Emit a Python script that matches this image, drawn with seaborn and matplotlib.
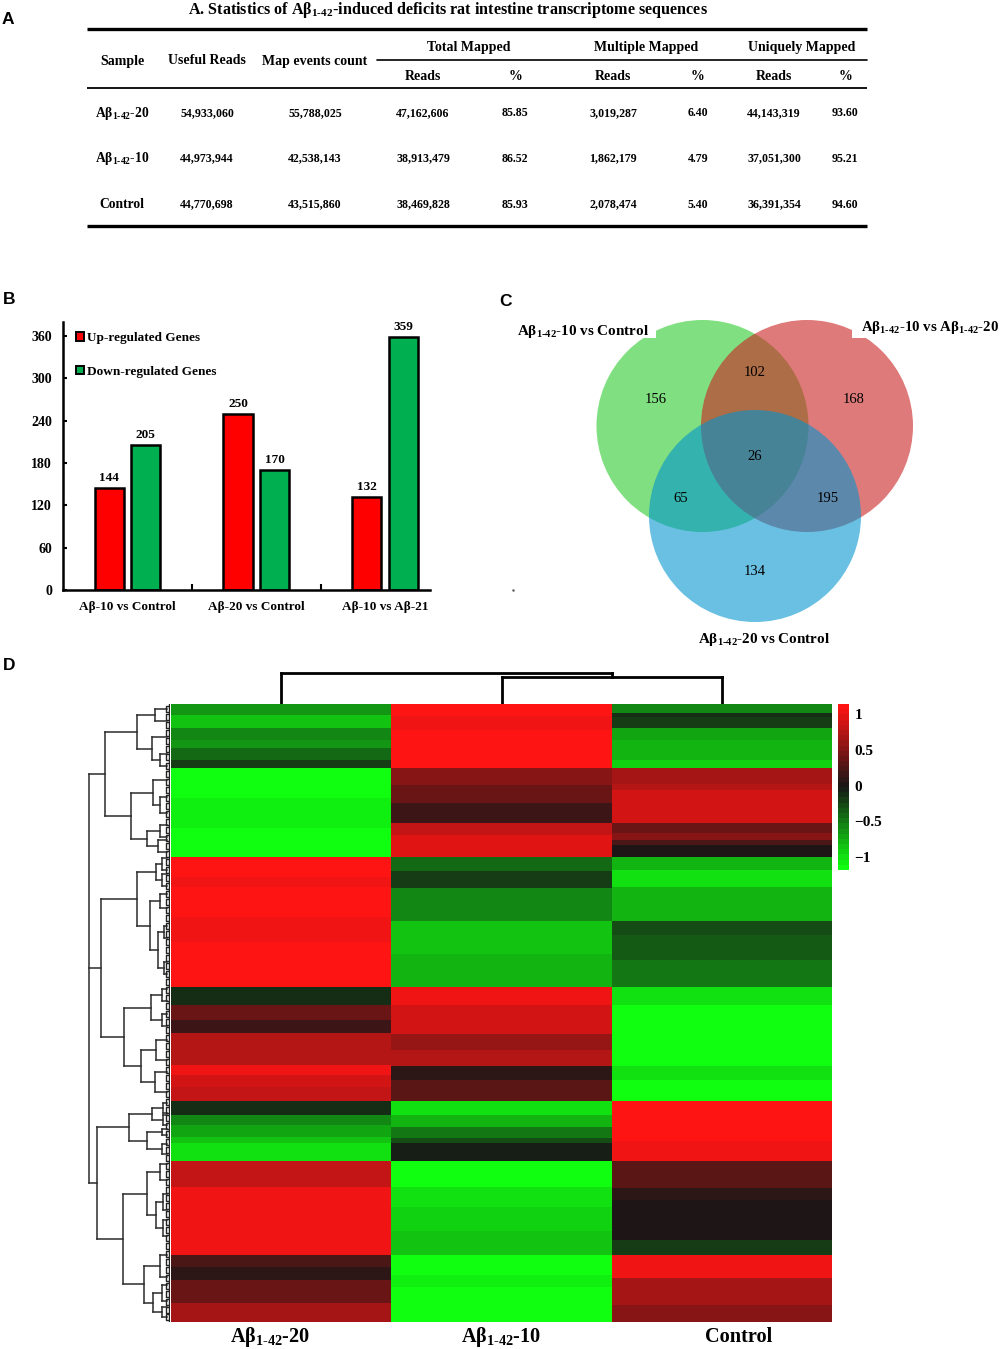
import numpy as np
import pandas as pd
import matplotlib
matplotlib.use("Agg")
import matplotlib.pyplot as plt
from matplotlib.colors import LinearSegmentedColormap
from matplotlib.patches import Circle, Rectangle
import seaborn as sns

# panel A table
ab = r"Aβ$_{\mathrm{1\text{-}42}}$"
table_title = "A. Statistics of " + ab + "-induced deficits rat intestine transcriptome sequences"
samples = [ab + "-20", ab + "-10", "Control"]
useful_reads = ["54,933,060", "44,973,944", "44,770,698"]
map_events = ["55,788,025", "42,538,143", "43,515,860"]
total_reads = ["47,162,606", "38,913,479", "38,469,828"]
total_pct = ["85.85", "86.52", "85.93"]
multi_reads = ["3,019,287", "1,862,179", "2,078,474"]
multi_pct = ["6.40", "4.79", "5.40"]
uniq_reads = ["44,143,319", "37,051,300", "36,391,354"]
uniq_pct = ["93.60", "95.21", "94.60"]

# panel B bars
comparisons = ["Aβ-10 vs Control", "Aβ-20 vs Control", "Aβ-10 vs Aβ-21"]
up_genes = [144, 250, 132]
down_genes = [205, 170, 359]

# panel C venn
venn_labels = [ab + "-10 vs Control", ab + "-10 vs " + ab + "-20", ab + "-20 vs Control"]
venn_counts = [156, 102, 168, 65, 26, 195, 134]

# panel D heatmap, bands of (value, rows) per sample
heat_cols = [ab + "-20", ab + "-10", "Control"]
col1_vals = [-.65, -.85, -.58, -.62, -.45, -.2, -1.16, -1.06, -1.16, 1.12, 1.05, 1.12, 1.05, 1.12,
             -.1, .35, .15, .75, 1.05, .9, .8, -.12, -.55, -.7, -.85, -1.0, .8, 1.05, .2, .08, .4, .7]
col1_rows = [11, 13, 12, 8, 12, 8, 30, 30, 29, 20, 10, 30, 25, 45,
             18, 15, 13, 32, 10, 12, 14, 14, 10, 12, 6, 18, 26, 68, 12, 13, 23, 19]
col2_vals = [1.12, 1.05, 1.12, .55, .35, .15, .8, .95, -.45, -.18, -.58, -.85, -.75,
             1.0, .85, .6, .75, .1, .3, -1.0, -.8, -.5, -.3, -.05, -1.16, -1.0, -.92, -.85, -1.16, -1.06, -1.16]
col2_rows = [12, 14, 38, 17, 18, 20, 12, 22, 14, 17, 33, 33, 33,
             18, 29, 16, 16, 14, 21, 14, 12, 11, 5, 18, 26, 20, 24, 24, 20, 12, 35]
col3_vals = [-.55, -.1, -.2, -.7, -.8, -.95, .65, .72, .92, .35, .5, .2, .05, -.8, -1.0, -.8, -.75, -.25, -.35, -.5,
             -1.0, -1.16, -1.0, -1.16, 1.1, 1.0, .3, .12, .02, -.2, 1.0, .65, .5]
col3_rows = [9, 4, 11, 12, 20, 8, 16, 6, 33, 10, 7, 5, 12, 13, 17, 13, 21, 14, 25, 27,
             18, 61, 14, 21, 40, 20, 27, 12, 40, 15, 23, 27, 17]

# dendrograms as nested (distance, child, child, ...), leaves are row/column positions
row_tree = (81,
            (65,
             (33, (15, 5, 17), (18, 33, (10, 50, 62))),
             (39, (17, 76, (10, 93, 109)), (23, (10, 121, 133), (12, 136, 148)))),
            (69,
             (33, (14, (8, 154, 166), (8, 170, 182)),
              (20, (10, 190, 204), (12, (6, 222, 234), (6, 258, 270)))),
             (46, (19, (8, 285, 297), (8, 310, 322)),
              (29, (14, 336, 356), (15, 368, 388)))),
            (73,
             (41, (18, (7, 399, 409), (7, 411, 421)), (23, (8, 425, 431), (8, 440, 450))),
             (47, (23, (10, 460, 476), (14, (7, 490, 506), (7, 516, 532))),
              (26, (10, 551, 573), (17, (8, 581, 597), (8, 603, 613))))))
col_tree = (31, 0.5, (27, 1.5, 2.5))
row_hooks = [5, 13, 21, 29, 37, 45, 53, 62, 70, 78, 86, 94, 102, 110, 118, 126, 134, 142, 150, 158, 166, 174,
             182, 190, 198, 206, 214, 222, 230, 238, 246, 254, 262, 270, 278, 286, 294, 302, 310, 318, 326,
             334, 342, 350, 358, 366, 374, 382, 390, 398, 406, 414, 422, 430, 438, 446, 454, 462, 470, 478,
             486, 494, 502, 510, 518, 526, 534, 542, 550, 558, 566, 574, 582, 590, 598, 606, 613]

sns.set_style("white")
plt.rcParams["font.family"] = ["Liberation Serif", "DejaVu Serif"]
plt.rcParams["font.weight"] = "bold"
plt.rcParams["text.color"] = "black"
plt.rcParams["xtick.color"] = "black"
plt.rcParams["ytick.color"] = "black"
plt.rcParams["mathtext.fontset"] = "custom"
plt.rcParams["mathtext.rm"] = "Liberation Serif:bold"
plt.rcParams["mathtext.it"] = "Liberation Serif:bold"
plt.rcParams["mathtext.bf"] = "Liberation Serif:bold"

W, H = 1000, 1349
fig = plt.figure(figsize=(W / 100, H / 100), dpi=100, facecolor="white")


def px_axes(x0, y0, x1, y1):
    return fig.add_axes([x0 / W, 1 - y1 / H, (x1 - x0) / W, (y1 - y0) / H])


def draw_tree(ax, node, leaf_end, vertical_leaves, **kw):
    if not isinstance(node, tuple):
        return node
    dist = node[0]
    spots = []
    for kid in node[1:]:
        spot = draw_tree(ax, kid, leaf_end, vertical_leaves, **kw)
        kid_dist = kid[0] if isinstance(kid, tuple) else leaf_end
        if vertical_leaves:
            ax.plot([spot, spot], [kid_dist, dist], **kw)
        else:
            ax.plot([kid_dist, dist], [spot, spot], **kw)
        spots.append(spot)
    if vertical_leaves:
        ax.plot([min(spots), max(spots)], [dist, dist], **kw)
    else:
        ax.plot([dist, dist], [min(spots), max(spots)], **kw)
    return (min(spots) + max(spots)) / 2


# overlay in pixels, for the table, the venn and panel letters
page = px_axes(0, 0, W, H)
page.set_xlim(0, W)
page.set_ylim(H, 0)
page.axis("off")

for letter, x, y in [("A", 2, 20), ("B", 3, 300), ("C", 499, 301), ("D", 3, 665)]:
    page.text(x, y, letter, family="Liberation Sans", fontsize=12.5, weight="bold", va="center")

page.text(448, 10, table_title, fontsize=11.6, ha="center", va="center")
for y, lw in [(29, 2.4), (88, 1.3), (226, 2.4)]:
    page.plot([87, 867], [y, y], color="black", lw=lw, solid_capstyle="butt")
page.plot([377, 867], [60, 60], color="black", lw=1.2)

for name, x in [("Sample", 122), ("Useful Reads", 207), ("Map events count", 315)]:
    page.text(x, 61, name, fontsize=10, ha="center", va="center")
for name, x in [("Total Mapped", 469), ("Multiple Mapped", 646), ("Uniquely Mapped", 802)]:
    page.text(x, 47, name, fontsize=10, ha="center", va="center")
for name, x in zip(["Reads", "%", "Reads", "%", "Reads", "%"], [423, 515, 613, 698, 774, 845]):
    page.text(x, 76, name, fontsize=10, ha="center", va="center")

table_cols = [useful_reads, map_events, total_reads, total_pct, multi_reads, multi_pct, uniq_reads, uniq_pct]
table_x = [207, 315, 423, 515, 613, 698, 774, 845]
for i, y in enumerate([113, 158.5, 204.5]):
    page.text(122, y, samples[i], fontsize=9.8, ha="center", va="center")
    for col, x in zip(table_cols, table_x):
        page.text(x, y, col[i], fontsize=8.6, ha="center", va="center")

# panel C
page.add_patch(Circle((702.5, 426), 106, fc=(43 / 255, 203 / 255, 43 / 255), ec="none", alpha=.6))
page.add_patch(Circle((807, 426), 106, fc=(203 / 255, 33 / 255, 33 / 255), ec="none", alpha=.6))
page.add_patch(Circle((755, 516), 106, fc=(0, 148 / 255, 206 / 255), ec="none", alpha=.59))
page.add_patch(Rectangle((510, 318), 146, 20, fc="white", ec="none"))
page.add_patch(Rectangle((852, 318), 148, 20, fc="white", ec="none"))
page.text(517, 331, venn_labels[0], fontsize=10.9, va="center")
page.text(861, 328, venn_labels[1], fontsize=10.7, va="center")
page.text(698, 639, venn_labels[2], fontsize=10.9, va="center")
venn_x = [656, 755, 854, 681, 755, 828, 755]
venn_y = [399.5, 372.5, 399.5, 498.5, 456.5, 498.5, 571.5]
for n, x, y in zip(venn_counts, venn_x, venn_y):
    page.text(x, y, str(n), fontsize=10.5, weight="normal", ha="center", va="center")
page.plot([513], [590], marker=".", ms=1.5, color="#555555")

# panel B
bars = pd.DataFrame({
    "comparison": comparisons * 2,
    "genes": up_genes + down_genes,
    "kind": ["Up-regulated Genes"] * 3 + ["Down-regulated Genes"] * 3,
})
ax = px_axes(63, 322, 430, 590)
sns.barplot(data=bars, x="comparison", y="genes", hue="kind", ax=ax, width=.568, gap=.2,
            palette=["#FF0000", "#00B050"], edgecolor="black", linewidth=1.8, saturation=1)
ax.set_xlim(-.501, 2.35)
ax.set_ylim(0, 380)
ax.set_xlabel("")
ax.set_ylabel("")
ax.set_yticks([0, 60, 120, 180, 240, 300, 360])
ax.tick_params(axis="y", direction="in", length=3, width=1.5, labelsize=10, pad=8, left=True)
ax.tick_params(axis="x", which="major", length=0, labelsize=9.5, pad=8)
ax.set_xticks([.5, 1.5], minor=True)
ax.tick_params(axis="x", which="minor", direction="in", length=4, width=1.5, bottom=True)
sns.despine(ax=ax)
for side in ["left", "bottom"]:
    ax.spines[side].set_linewidth(1.8)
    ax.spines[side].set_color("black")
for bc in ax.containers:
    ax.bar_label(bc, fontsize=9.5, padding=3)
ax.legend(loc="upper left", bbox_to_anchor=(.021, .982), frameon=False, fontsize=9.5, labelspacing=1.65,
          handlelength=.6, handleheight=.6, handletextpad=.25, borderaxespad=0)
for h in ax.get_legend().legend_handles:
    h.set_linewidth(1.4)

# panel D
heat = pd.DataFrame({
    heat_cols[0]: np.repeat(col1_vals, col1_rows),
    heat_cols[1]: np.repeat(col2_vals, col2_rows),
    heat_cols[2]: np.repeat(col3_vals, col3_rows),
})
rg = LinearSegmentedColormap.from_list("rg", ["#10FF10", "#161616", "#FF1414"], N=32)
hax = px_axes(171, 704, 832, 1322)
cax = px_axes(838, 704, 849, 870)
sns.heatmap(heat, ax=hax, cbar_ax=cax, cmap=rg, vmin=-1.18, vmax=1.14, yticklabels=False,
            xticklabels=True, cbar_kws={"ticks": [-1, -.5, 0, .5, 1]})
hax.set_xticks([.449, 1.50, 2.578])
hax.set_xticklabels(heat_cols, rotation=0, fontsize=14.6, va="baseline")
hax.tick_params(axis="x", length=0, pad=14.5)
hax.tick_params(axis="y", length=0)
cax.set_yticklabels(["−1", "−0.5", "0", "0.5", "1"], fontsize=11)
cax.tick_params(length=0, pad=4)

tree_kw = {"color": "#2b2b2b", "lw": 1.1, "solid_capstyle": "projecting"}
lax = px_axes(85, 704, 170, 1322)
lax.set_xlim(85, 0)
lax.set_ylim(618, 0)
lax.axis("off")
draw_tree(lax, row_tree, 3, False, **tree_kw)
lax.plot([.6, .6], [0, 618], color="#222222", lw=1.0)
for r in row_hooks:
    lax.plot([0, 4, 4, 0], [r - 3, r - 3, r + 3, r + 3], color="#222222", lw=1.0)

tax = px_axes(171, 670, 832, 704)
tax.set_xlim(0, 3)
tax.set_ylim(0, 34)
tax.axis("off")
draw_tree(tax, col_tree, 0, True, color="black", lw=2.0, solid_capstyle="projecting")

fig.savefig("out.png", dpi=100)
